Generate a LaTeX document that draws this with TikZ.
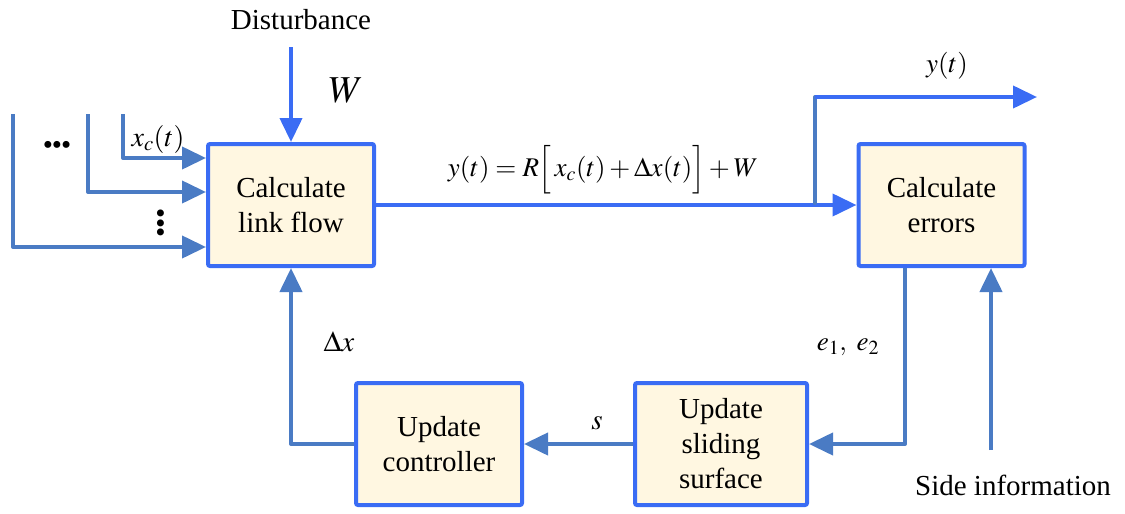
\documentclass[tikz,border=0pt]{standalone}
\usepackage{mathptmx}
\usepackage{fontspec}
\setmainfont{Liberation Serif}
\usetikzlibrary{arrows.meta,positioning}
\definecolor{brightblue}{RGB}{58,108,244}
\definecolor{steelblue}{RGB}{74,123,196}
\definecolor{cream}{RGB}{255,247,225}
\tikzset{
  block/.style={draw=brightblue, fill=cream, line width=4pt, rounded corners=2pt,
    minimum width=166pt, minimum height=122pt, align=center, inner sep=0pt,
    font=\rmfamily\fontsize{29}{35}\selectfont},
  mainsig/.style={draw=brightblue, line width=4pt, -{Triangle[length=24pt,width=22pt]}},
  feed/.style={draw=steelblue, line width=4pt, line join=round, -{Triangle[length=24pt,width=22pt]}},
  feedline/.style={draw=steelblue, line width=4pt, line cap=round},
  lbl/.style={font=\rmfamily\fontsize{29}{35}\selectfont, inner sep=0pt}
}
\begin{document}
\begin{tikzpicture}[x=1pt,y=-1pt]
    \useasboundingbox (0,0) rectangle (1125,514);
%    blocks
    \node[block] (N1) at (291,205) {Calculate\\link flow};
    \node[block] (N2) at (941.5,205) {Calculate\\errors};
    \node[block] (N3) at (439,444) {Update\\controller};
    \node[block, minimum width=172pt] (N4) at (721,444) {Update\\sliding\\surface};
%    disturbance
    \node[lbl] (l1) at (301,20) {Disturbance};
    \coordinate (w0) at (291,47);
    \draw[mainsig] (w0) -- (N1.north);
    \node[lbl, font=\fontsize{38}{40}\selectfont] (l2) at (346,90) {$W$};
%    inputs
    \coordinate (x1) at (123,114);
    \coordinate (x2) at (88,114);
    \coordinate (x3) at (13,114);
    \draw[feed] (x1) |- ([yshift=47pt]N1.west);
    \draw[feed] (x2) |- ([yshift=13pt]N1.west);
    \draw[feed] (x3) |- ([yshift=-42pt]N1.west);
    \node[lbl, font=\fontsize{28}{30}\selectfont] (l3) at (158,139) {$x_c(t)$};
    \node[lbl] (l4) at (57,148) {\textbullet\kern-1pt\textbullet\kern-1pt\textbullet};
    \node[lbl, rotate=90] (l5) at (164,223) {\textbullet\kern-1pt\textbullet\kern-1pt\textbullet};
%    output
    \draw[mainsig] (N1.east) -- (N2.west);
    \node[lbl, font=\fontsize{27}{30}\selectfont] (l6) at (603,170)
        {$y(t)=R\Big[\,x_c(t)+\Delta x(t)\Big]+W$};
    \coordinate (b0) at (815,203);
    \coordinate (b1) at (815,97);
    \coordinate (yout) at (1037,97);
    \draw[feedline] (b0) -- (b1);
    \draw[mainsig] (b1) -- (yout);
    \node[lbl, font=\fontsize{27}{30}\selectfont] (l7) at (947,66) {$y(t)$};
%    feedback loop
    \draw[feed] ([xshift=-36.5pt]N2.south) |- (N4.east);
    \node[lbl, font=\fontsize{27}{30}\selectfont] (l8) at (848,347) {$e_1,\ e_2$};
    \coordinate (si) at (991,450);
    \draw[feed] (si) -- (si |- N2.south);
    \node[lbl] (l9) at (1013,485) {Side information};
    \draw[feed] (N4.west) -- (N3.east);
    \node[lbl, font=\fontsize{29}{30}\selectfont] (l10) at (597,423) {$s$};
    \draw[feed] (N3.west) -| (N1.south);
    \node[lbl, font=\fontsize{29}{30}\selectfont] (l11) at (339,342) {$\Delta x$};
\end{tikzpicture}
\end{document}
